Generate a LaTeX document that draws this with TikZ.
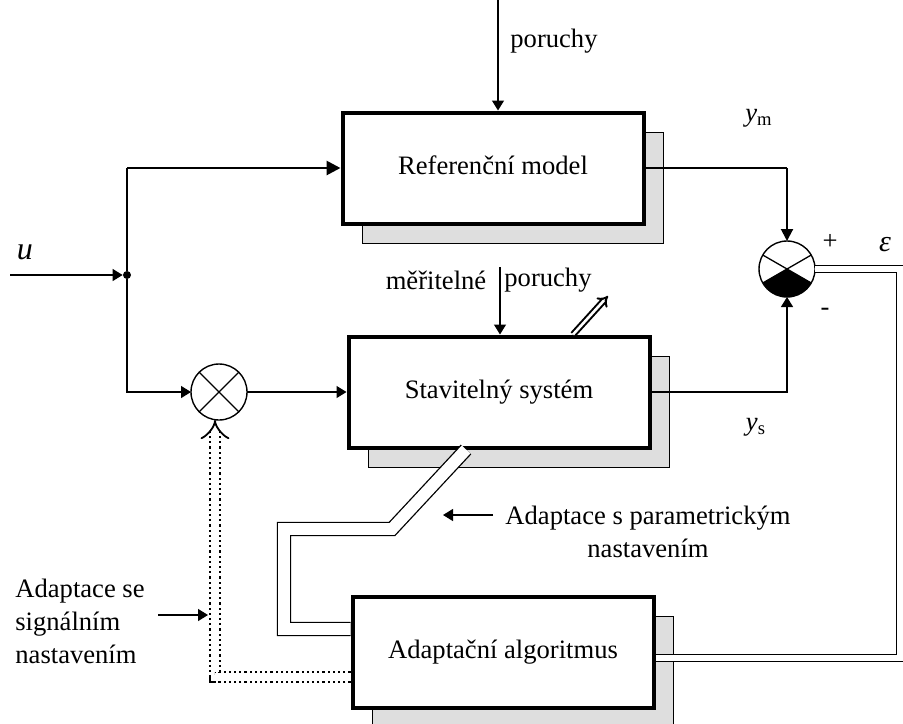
\documentclass[tikz,border=0pt]{standalone}
\usepackage{fontspec}
\setmainfont{Liberation Serif}
\usetikzlibrary{arrows.meta,shadows}

\tikzset{
	blok/.style={draw, line width=2pt, fill=white, minimum width=150.5pt, minimum height=55.5pt,
		copy shadow={shadow xshift=10pt, shadow yshift=-10pt, fill=black!13, draw=black, line width=0.7pt}},
	kruh/.style={draw, circle, line width=0.7pt, fill=white, minimum size=28pt, inner sep=0pt, outer sep=0pt},
	tecka/.style={circle, fill=black, inner sep=0pt, minimum size=4pt},
	popis/.style={inner sep=0pt},
	tenka/.style={line width=0.65pt},
	sipka/.style={line width=0.65pt, -{Triangle[length=5pt,width=6pt]}},
	tlusta/.style={line width=1.4pt, -{Triangle[length=7pt,width=7pt]}},
	dvoj/.style={double, line width=0.65pt},
	teckovana/.style={double, double distance=4.2pt, line width=0.9pt, dash pattern=on 1.1pt off 1.5pt, -{Implies}}
}

\begin{document}
\begin{tikzpicture}[x=0.5pt, y=-0.5pt, font=\fontsize{13.3}{16.5}\selectfont]
	%%%%% START %%%%%
	\useasboundingbox (0,0) rectangle (903,723);
	
	\node[blok] (ref) at (493,168) {\raisebox{3pt}{Referenční model}};
	\node[blok] (sys) at (499,392) {\raisebox{2pt}{Stavitelný systém}};
	\node[blok] (alg) at (503,652) {\raisebox{-2pt}{Adaptační algoritmus}};
	
	\node[kruh] (mult) at (219,392) {};
	\draw[tenka] (mult.45) -- (mult.225) (mult.135) -- (mult.315);
	
	\node[kruh] (sum) at (787,269) {};
	\fill (sum.center) -- (sum.210) arc[start angle=210, end angle=330, radius=14pt] -- cycle;
	\draw[tenka] (sum.150) -- (sum.330) (sum.30) -- (sum.210);
	
	\node[tecka] (split) at (127,275) {};
	\coordinate (uin) at (10,275);
	\coordinate (kor) at (split |- ref.west);
	\coordinate (ymk) at (sum.north |- ref.east);
	\coordinate (dist) at (498,0);
	\coordinate (mdist) at (500,267);
	\coordinate (adj) at (608,296);
	\coordinate (eps) at (900,269);
	\coordinate (pk1) at (392,529);
	\coordinate (pk2) at (284,529);
	
	\draw[sipka] (uin) -- (split);
	\draw[tenka] (split) -- (kor);
	\draw[tlusta] (kor) -- (ref.west);
	\draw[sipka] (split) |- (mult.west);
	\draw[sipka] (mult.east) -- (sys.west);
	
	\draw[sipka] (dist) -- (ref.north -| dist);
	\draw[sipka] (mdist) -- (sys.north -| mdist);
	
	\draw[tenka] (ref.east) -- (ymk);
	\draw[line width=1pt, -{Triangle[length=6pt,width=6pt]}] (ymk) -- (sum.north);
	\draw[sipka] (sys.east) -| (sum.south);
	
	\draw[dvoj, double distance=1.3pt, line width=1pt, -{Implies[length=5pt]}] ([xshift=37pt]sys.north) -- (adj);
	\draw[dvoj, double distance=5.85pt] ([xshift=-16.5pt]sys.south) -- (pk1) -- (pk2) |- ([yshift=11.5pt]alg.west);
	\draw[dvoj, double distance=2.85pt] (sum.east) -- (eps) |- ([yshift=-3pt]alg.east);
	\draw[teckovana] ([yshift=-12.5pt]alg.west) -| ([xshift=-2pt]mult.south);
	
	\node[popis] (por1) at (554,41) {poruchy};
	\node[popis] (mer) at (436,280) {měřitelné};
	\node[popis] (por2) at (548,280) {poruchy};
	\node[popis] (ym) at (759,118) {\textit{y}\textsubscript{m}};
	\node[popis] (ys) at (756,427) {\textit{y}\textsubscript{s}};
	\node[popis] (plus) at (830,242) {+};
	\node[popis] (minus) at (825,312) {-};
	\node[popis, font=\fontsize{15}{16}\selectfont\itshape] (epsl) at (885,245) {ε};
	\node[popis, font=\fontsize{16}{16}\selectfont\itshape] (ul) at (25,252) {u};
	
	\node[popis, align=center] (parlbl) at (648,532) {Adaptace s parametrickým\\nastavením};
	\coordinate (parto) at (443,515);
	\draw[sipka, shorten <=6pt] (parlbl.west |- parto) -- (parto);
	
	\node[popis, align=left, anchor=west] (siglbl) at (15,621) {Adaptace se\\signálním\\nastavením};
	\coordinate (sigto) at (208,615);
	\draw[sipka, shorten <=6.5pt] (siglbl.east |- sigto) -- (sigto);
	%%%%% END %%%%%
\end{tikzpicture}
\end{document}
